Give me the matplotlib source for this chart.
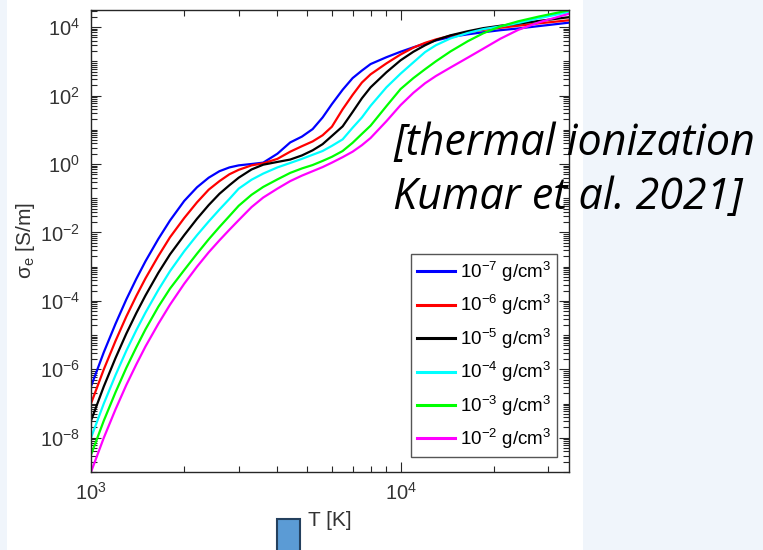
import numpy as np
import matplotlib
matplotlib.use("Agg")
import matplotlib.pyplot as plt
from matplotlib.patches import Rectangle
from matplotlib.ticker import LogLocator, NullFormatter

plt.rcParams['font.family'] = ['Liberation Sans', 'DejaVu Sans']

# temperature grid [K]
T_K = [1000, 1100, 1200, 1300, 1400, 1500, 1650, 1800, 2000, 2200, 2400, 2600,
       2800, 3000, 3300, 3600, 4000, 4400, 4800, 5200, 5600, 6000, 6500, 7000,
       7500, 8000, 9000, 10000, 11000, 12000, 13000, 14500, 16500, 18500,
       21000, 24000, 28000, 35000]

# log10 of electrical conductivity [S/m] for each density
log_sig_1e7 = [-6.50, -5.50, -4.67, -3.96, -3.36, -2.84, -2.19, -1.65, -1.08, -0.68,
               -0.40, -0.21, -0.10, -0.04, 0.00, 0.04, 0.30, 0.63, 0.80, 1.02,
               1.36, 1.75, 2.17, 2.51, 2.73, 2.92, 3.12, 3.28, 3.41, 3.52,
               3.61, 3.71, 3.79, 3.85, 3.91, 3.96, 4.03, 4.13]
log_sig_1e6 = [-7.00, -6.00, -5.17, -4.46, -3.86, -3.34, -2.69, -2.14, -1.58, -1.12,
               -0.75, -0.50, -0.30, -0.17, -0.04, 0.02, 0.15, 0.36, 0.52, 0.66,
               0.84, 1.09, 1.60, 2.02, 2.38, 2.62, 2.94, 3.20, 3.40, 3.54,
               3.64, 3.75, 3.85, 3.92, 3.98, 4.04, 4.11, 4.20]
log_sig_1e5 = [-7.50, -6.50, -5.67, -4.96, -4.36, -3.84, -3.18, -2.64, -2.08, -1.60,
               -1.20, -0.87, -0.62, -0.40, -0.16, -0.02, 0.06, 0.13, 0.25, 0.40,
               0.58, 0.82, 1.10, 1.52, 1.92, 2.24, 2.68, 3.03, 3.28, 3.47,
               3.62, 3.76, 3.88, 3.97, 4.04, 4.10, 4.18, 4.29]
log_sig_1e4 = [-8.00, -7.00, -6.17, -5.46, -4.86, -4.34, -3.68, -3.13, -2.55, -2.08,
               -1.68, -1.33, -1.02, -0.72, -0.46, -0.28, -0.10, 0.03, 0.15, 0.27,
               0.38, 0.53, 0.72, 1.06, 1.36, 1.70, 2.24, 2.64, 2.97, 3.27,
               3.47, 3.67, 3.83, 3.94, 4.02, 4.12, 4.26, 4.44]
log_sig_1e3 = [-8.50, -7.50, -6.67, -5.96, -5.36, -4.83, -4.17, -3.64, -3.10, -2.62,
               -2.20, -1.84, -1.52, -1.22, -0.90, -0.67, -0.45, -0.26, -0.13, -0.03,
               0.09, 0.21, 0.38, 0.62, 0.88, 1.12, 1.69, 2.19, 2.51, 2.77,
               3.00, 3.29, 3.59, 3.82, 4.02, 4.17, 4.31, 4.49]
log_sig_1e2 = [-9.00, -8.00, -7.17, -6.46, -5.86, -5.33, -4.67, -4.11, -3.50, -3.00,
               -2.58, -2.23, -1.92, -1.64, -1.26, -0.98, -0.72, -0.50, -0.34, -0.21,
               -0.09, 0.04, 0.20, 0.36, 0.55, 0.76, 1.25, 1.72, 2.08, 2.36,
               2.57, 2.82, 3.11, 3.37, 3.66, 3.92, 4.14, 4.39]

density_exps = [-7, -6, -5, -4, -3, -2]
series = [log_sig_1e7, log_sig_1e6, log_sig_1e5, log_sig_1e4, log_sig_1e3, log_sig_1e2]
colors = ['#0000ff', '#ff0000', '#000000', '#00ffff', '#00ff00', '#ff00ff']

y_tick_exps = [-8, -6, -4, -2, 0, 2, 4]
x_tick_exps = [3, 4]

fig = plt.figure(figsize=(7.63, 5.50), dpi=100)
fig.patch.set_facecolor('#f0f5fb')
# white slide area behind the plot
fig.patches.append(Rectangle((7 / 763, 0), 576 / 763, 1, transform=fig.transFigure,
                             facecolor='white', edgecolor='none', zorder=-10))

ax = fig.add_axes([91 / 763, 78 / 550, 478 / 763, 462 / 550])
T = np.array(T_K, dtype=float)
for e, ls, c in zip(density_exps, series, colors):
    ax.plot(T, 10.0 ** np.array(ls), color=c, lw=1.6,
            label=r'$\mathregular{10^{%d}}$ g/cm$\mathregular{^3}$' % e)

ax.set_xscale('log')
ax.set_yscale('log')
ax.set_xlim(1000, 35000)
ax.set_ylim(1e-9, 10 ** 4.5)

ax.set_yticks([10.0 ** e for e in y_tick_exps])
ax.set_yticklabels([r'$\mathregular{10^{%d}}$' % e for e in y_tick_exps])
ax.set_xticks([10.0 ** e for e in x_tick_exps])
ax.set_xticklabels([r'$\mathregular{10^{%d}}$' % e for e in x_tick_exps])
ax.yaxis.set_minor_locator(LogLocator(base=10, subs=np.arange(1, 10), numticks=100))
ax.xaxis.set_minor_locator(LogLocator(base=10, subs=np.arange(2, 10), numticks=100))
ax.xaxis.set_minor_formatter(NullFormatter())
ax.yaxis.set_minor_formatter(NullFormatter())

edge = '#262626'
ax.tick_params(which='both', direction='in', top=True, right=True, colors=edge,
               labelcolor='#333333', width=0.8)
ax.tick_params(which='major', length=7, labelsize=14.5)
ax.tick_params(axis='y', which='major', pad=8)
ax.tick_params(axis='x', which='major', pad=7)
ax.tick_params(which='minor', length=4)
for sp in ax.spines.values():
    sp.set_color(edge)
    sp.set_linewidth(1.0)

ax.set_xlabel('T [K]', fontsize=15, color='#333333', labelpad=5)
ax.set_ylabel(r'σ$_\mathregular{e}$ [S/m]', fontsize=15, color='#333333', labelpad=2)

leg = ax.legend(loc='upper right', bbox_to_anchor=(0.975, 0.472), borderaxespad=0,
                fontsize=13.5, handlelength=2.0, handletextpad=0.3,
                labelspacing=0.5, fancybox=False, framealpha=1,
                edgecolor='#555555', borderpad=0.3)
leg.get_frame().set_linewidth(1.0)
for line in leg.get_lines():
    line.set_linewidth(2.2)

# slide annotation
fig.text(393 / 763, 1 - 155 / 550, '[thermal ionization', fontsize=31,
         family=['Open Sans', 'DejaVu Sans'], style='italic', va='baseline')
fig.text(393 / 763, 1 - 209 / 550, 'Kumar et al. 2021]', fontsize=31,
         family=['Open Sans', 'DejaVu Sans'], style='italic', va='baseline')

fig.patches.append(Rectangle((277 / 763, -10 / 550), 23 / 763, 41 / 550,
                             transform=fig.transFigure, facecolor='#5b9bd5',
                             edgecolor='#24405e', linewidth=1.5, zorder=5))

fig.savefig('out.png', dpi=100)
